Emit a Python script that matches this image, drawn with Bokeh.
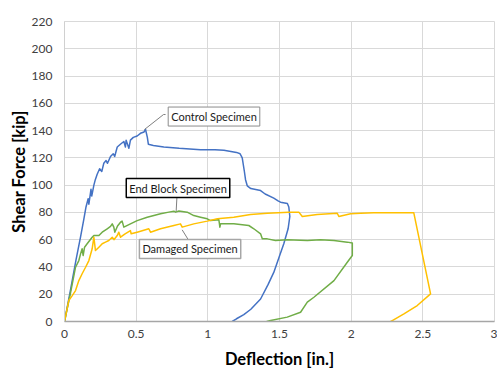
from bokeh.plotting import figure
from bokeh.models import Range1d, FixedTicker, Label, BoxAnnotation
from bokeh.embed import file_html
from bokeh.resources import INLINE

# ---------------- data ----------------
x_ticks = [0, 0.5, 1, 1.5, 2, 2.5, 3]
x_tick_labels = ["0", "0.5", "1", "1.5", "2", "2.5", "3"]
y_ticks = [0, 20, 40, 60, 80, 100, 120, 140, 160, 180, 200, 220]

control_x = [0, 0.04, 0.08, 0.112, 0.135, 0.15, 0.165, 0.17, 0.185, 0.19, 0.205, 0.215,
             0.228, 0.245, 0.26, 0.274, 0.29, 0.3, 0.321, 0.34, 0.35, 0.368, 0.39, 0.414,
             0.425, 0.43, 0.449, 0.46, 0.48, 0.507, 0.53, 0.555, 0.565, 0.578, 0.585, 0.62,
             0.693, 0.8, 0.949, 1.05, 1.112, 1.2, 1.225, 1.24, 1.255, 1.263, 1.275, 1.3,
             1.368, 1.4, 1.46, 1.49, 1.507, 1.555, 1.565, 1.572, 1.56, 1.53, 1.5, 1.46,
             1.42, 1.368, 1.3, 1.251, 1.2, 1.17]
control_y = [0, 22, 45, 62, 75, 84, 90, 86, 97, 92, 100, 104,
             108, 112, 110, 116, 118, 116, 121, 123, 121, 128, 130, 132,
             128, 133, 127, 133, 135, 136, 138, 139, 141, 135, 130, 129,
             128, 127, 126, 126, 125.5, 124, 123, 120, 110, 104, 99.5, 97.5,
             96, 93.5, 90.5, 88.5, 87.5, 86.5, 84, 77, 68, 57, 48, 36,
             27, 16.5, 9, 5, 2, 0]

endblock_x = [0, 0.04, 0.077, 0.1, 0.112, 0.123, 0.13, 0.14, 0.158, 0.193, 0.205, 0.24,
              0.263, 0.298, 0.321, 0.333, 0.344, 0.351, 0.37, 0.391, 0.402, 0.414, 0.46,
              0.507, 0.577, 0.67, 0.728, 0.763, 0.775, 0.798, 0.856, 0.902, 0.949, 0.996,
              1.019, 1.077, 1.084, 1.089, 1.181, 1.286, 1.321, 1.368, 1.38, 1.415, 1.472,
              1.554, 1.694, 1.786, 1.88, 1.973, 2.008, 2.008, 1.973, 1.88, 1.74, 1.694,
              1.647, 1.554, 1.438, 1.41]
endblock_y = [0, 20, 39.8, 44.7, 49.6, 53.3, 48.4, 54.5, 57, 61.8, 63, 63,
              65.5, 68, 69.7, 71.6, 69.2, 65.5, 70, 72.8, 73.6, 69.2, 71.6,
              74, 76.5, 79, 80.2, 80.9, 80.2, 81, 80.2, 77.7, 76.5, 75.3,
              74, 74.6, 69.2, 71.6, 71.6, 70.4, 68, 64.3, 60.6, 60.6, 59.4,
              59.9, 59.4, 59.9, 59.4, 58.2, 57.5, 48.4, 43.5, 30, 17.8, 14.2,
              6.8, 3.2, 0.7, 0]

damaged_x = [0, 0.03, 0.054, 0.077, 0.1, 0.123, 0.147, 0.17, 0.193, 0.205, 0.216, 0.24,
             0.263, 0.286, 0.309, 0.333, 0.345, 0.368, 0.379, 0.391, 0.42, 0.46, 0.465,
             0.507, 0.588, 0.6, 0.67, 0.763, 0.809, 0.821, 0.902, 0.996, 1.066, 1.181,
             1.298, 1.415, 1.565, 1.635, 1.659, 1.763, 1.903, 1.914, 1.996, 2.066, 2.158,
             2.437, 2.554, 2.461, 2.368, 2.287, 2.275]
damaged_y = [0, 15.4, 19, 22.7, 30, 35, 39.8, 44.7, 53.3, 61.8, 52, 54.5,
             57, 58.2, 59.4, 61.8, 60, 63, 65.5, 61.8, 64, 66.7, 64.3,
             65.5, 68, 65.5, 68, 70.4, 71.6, 69.2, 71.6, 73.6, 75.3, 76.5,
             78.5, 79.4, 80.2, 80.2, 77, 78.5, 79.4, 77, 79, 79.4, 79.7,
             79.7, 20.3, 11.7, 5.6, 0.7, 0]

series_names = ["Control Specimen", "End Block Specimen", "Damaged Specimen"]
series_colors = ["#4472C4", "#70AD47", "#FFC000"]

# callouts: label centre (x, y), leader line start and end (data units)
callout_pos = [(1.043, 150.3), (0.792, 97.9), (0.876, 53.2)]
leader_x = [[0.705, 0.691, 0.558], [0.785, 0.779], [0.867, 0.821]]
leader_y = [[151.8, 151.8, 140.8], [92.4, 80.9], [59.4, 67.2]]
callout_border = ["#8c8c8c", "#000000", "#a6a6a6"]
callout_border_w = [1, 1.5, 1.5]

FONT = "Lato"

p = figure(width=497, height=371,
           x_range=Range1d(0, 3), y_range=Range1d(0, 220),
           output_backend="svg", toolbar_location=None,
           min_border_left=64, min_border_right=3,
           min_border_top=21, min_border_bottom=50,
           background_fill_color="white", border_fill_color="white")

p.outline_line_color = "#d9d9d9"
p.xgrid.grid_line_color = "#d9d9d9"
p.ygrid.grid_line_color = "#d9d9d9"

p.xaxis.ticker = FixedTicker(ticks=x_ticks)
p.yaxis.ticker = FixedTicker(ticks=y_ticks)
p.xaxis.major_label_overrides = {t: l for t, l in zip(x_ticks, x_tick_labels)}

for ax in (p.xaxis, p.yaxis):
    ax.major_tick_line_color = None
    ax.minor_tick_line_color = None
    ax.major_tick_out = 0
    ax.major_tick_in = 0
    ax.minor_tick_out = 0
    ax.major_label_text_font = FONT
    ax.major_label_text_font_size = "12px"
    ax.major_label_text_color = "#404040"
    ax.axis_label_text_font = FONT
    ax.axis_label_text_font_size = "16.5px"
    ax.axis_label_text_font_style = "bold"
    ax.axis_label_text_color = "#000000"

p.xaxis.axis_label = "Deflection [in.]"
p.yaxis.axis_label = "Shear Force [kip]"
p.xaxis.axis_line_color = "#a6a6a6"
p.xaxis.axis_line_width = 1.5
p.yaxis.axis_line_color = "#d0d0d0"
p.xaxis.major_label_standoff = 8
p.yaxis.major_label_standoff = 12
p.xaxis.axis_label_standoff = 8
p.yaxis.axis_label_standoff = 0

# thin rule along the top edge of the chart area (decoration)
p.add_layout(BoxAnnotation(left=-0.398, right=3.021, bottom=228.8, top=229.5,
                           fill_color="#a6a6a6", fill_alpha=1.0, line_color=None,
                           level="overlay"))

xs = [control_x, endblock_x, damaged_x]
ys = [control_y, endblock_y, damaged_y]
for sx, sy, c in zip(xs, ys, series_colors):
    p.line(sx, sy, line_color=c, line_width=1.5, line_join="round")

for (cx, cy), lx, ly, name, bc, bw in zip(callout_pos, leader_x, leader_y,
                                          series_names, callout_border, callout_border_w):
    p.line(lx, ly, line_color="#7f7f7f", line_width=1)
    p.add_layout(Label(x=cx, y=cy, text=name, text_align="center", text_baseline="middle",
                       text_font=FONT, text_font_size="11px", text_color="#1a1a1a",
                       background_fill_color="white", border_line_color=bc,
                       border_line_width=bw, padding=3))

open("out.html", "w").write(file_html(p, INLINE))
